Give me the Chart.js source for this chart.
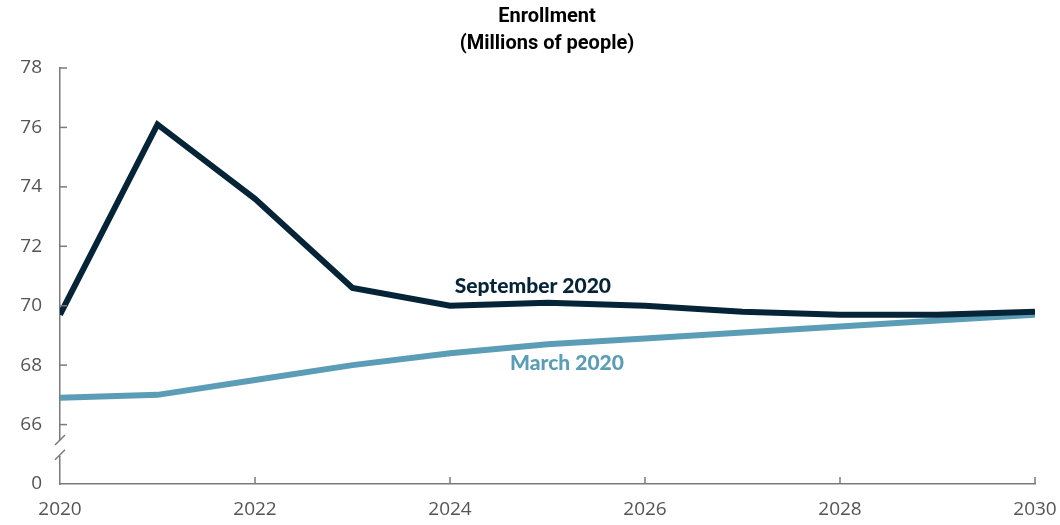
<!DOCTYPE html>
<html>
<head>
<meta charset="utf-8">
<script src="https://cdn.jsdelivr.net/npm/chart.js@4/dist/chart.umd.min.js"></script>
<style>
  html, body { margin: 0; padding: 0; background: #fff; }
  #wrap { width: 1060px; height: 525px; position: relative; }
</style>
</head>
<body>
<div id="wrap"><canvas id="enrollChart"></canvas></div>
<script>
const years = [2020, 2021, 2022, 2023, 2024, 2025, 2026, 2027, 2028, 2029, 2030];
const september2020 = [69.7, 76.1, 73.6, 70.6, 70.0, 70.1, 70.0, 69.8, 69.7, 69.7, 69.8];
const march2020 = [66.9, 67.0, 67.5, 68.0, 68.4, 68.7, 68.9, 69.1, 69.3, 69.5, 69.7];
const titleLines = ['Enrollment', '(Millions of people)'];
// bottom of the broken axis stands in for zero
const axisFloor = 64;

const darkNavy = '#052437';
const steelBlue = '#5b9db7';
const axisGrey = '#7a7a7a';

// inward tick marks, the axis break and the inline series labels
const decorations = {
  id: 'decorations',
  afterDraw(chart) {
    const { ctx, chartArea, scales } = chart;
    const x = scales.x, y = scales.y;
    ctx.save();
    ctx.strokeStyle = axisGrey;
    ctx.lineWidth = 1.5;

    // y ticks pointing into the plot
    for (let v = 66; v <= 78; v += 2) {
      const py = y.getPixelForValue(v);
      ctx.beginPath();
      ctx.moveTo(chartArea.left, py);
      ctx.lineTo(chartArea.left + 7, py);
      ctx.stroke();
    }
    // x ticks pointing up
    for (let yr = 2022; yr <= 2030; yr += 2) {
      const px = x.getPixelForValue(yr);
      ctx.beginPath();
      ctx.moveTo(px, chartArea.bottom);
      ctx.lineTo(px, chartArea.bottom - 7);
      ctx.stroke();
    }

    // axis break between 66 and the zero line
    const l = chartArea.left;
    const b1 = y.getPixelForValue(65.45);
    const b2 = y.getPixelForValue(64.95);
    ctx.fillStyle = '#fff';
    ctx.fillRect(l - 3, b1, 6, b2 - b1);
    ctx.beginPath();
    ctx.moveTo(l - 5, b1 + 4); ctx.lineTo(l + 5, b1 - 6);
    ctx.moveTo(l - 5, b2 + 4); ctx.lineTo(l + 5, b2 - 6);
    ctx.stroke();

    // title
    ctx.fillStyle = '#000';
    ctx.font = 'bold 20px Roboto';
    ctx.textAlign = 'center';
    ctx.textBaseline = 'middle';
    ctx.fillText(titleLines[0], 547, 17);
    ctx.fillText(titleLines[1], 547, 44);

    // series labels
    ctx.font = '900 21px Lato';
    ctx.fillStyle = darkNavy;
    ctx.fillText('September 2020', x.getPixelForValue(2024.85), y.getPixelForValue(70.67));
    ctx.fillStyle = steelBlue;
    ctx.fillText('March 2020', x.getPixelForValue(2025.2), y.getPixelForValue(68.05));
    ctx.restore();
  }
};

new Chart(document.getElementById('enrollChart'), {
  type: 'line',
  data: {
    datasets: [
      {
        label: 'September 2020',
        data: years.map((yr, i) => ({ x: yr, y: september2020[i] })),
        borderColor: darkNavy,
        borderWidth: 6,
        borderJoinStyle: 'miter',
        pointRadius: 0,
        tension: 0
      },
      {
        label: 'March 2020',
        data: years.map((yr, i) => ({ x: yr, y: march2020[i] })),
        borderColor: steelBlue,
        borderWidth: 6,
        borderJoinStyle: 'miter',
        pointRadius: 0,
        tension: 0
      }
    ]
  },
  options: {
    responsive: true,
    maintainAspectRatio: false,
    animation: false,
    layout: { autoPadding: false, padding: { top: 68, right: 25, left: 0, bottom: 0 } },
    plugins: {
      legend: { display: false },
      tooltip: { enabled: false },
      title: { display: false }
    },
    scales: {
      x: {
        type: 'linear',
        min: 2020,
        max: 2030,
        grid: { display: false, drawTicks: false },
        border: { display: true, color: axisGrey, width: 1.5 },
        ticks: {
          stepSize: 2,
          padding: 14,
          color: '#555',
          font: { family: 'Open Sans', size: 19 },
          callback: v => String(v)
        },
        afterFit(scale) {
          scale.height = 41;
          scale.paddingLeft = 0;
          scale.paddingRight = 0;
        }
      },
      y: {
        min: axisFloor,
        max: 78,
        grid: { display: false, drawTicks: false },
        border: { display: true, color: axisGrey, width: 1.5 },
        ticks: {
          stepSize: 2,
          padding: 18,
          color: '#555',
          font: { family: 'Open Sans', size: 19 },
          callback: v => (v === axisFloor ? '0' : String(v))
        },
        afterFit(scale) { scale.width = 60; }
      }
    }
  },
  plugins: [decorations]
});
</script>
</body>
</html>
